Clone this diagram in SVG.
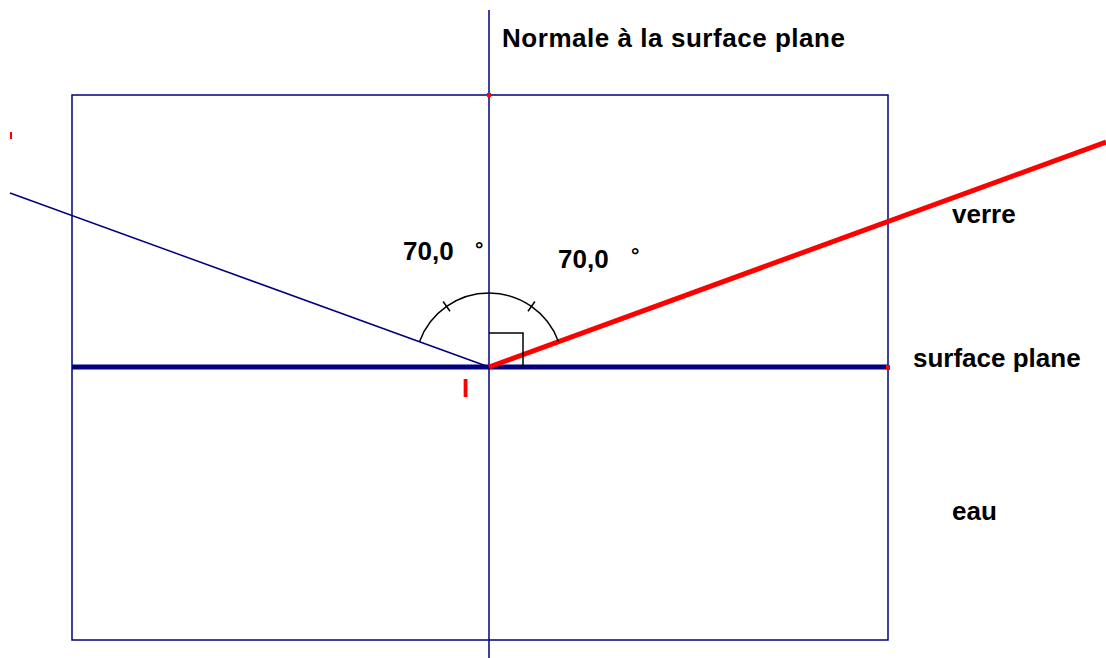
<svg xmlns="http://www.w3.org/2000/svg" width="1106" height="658" viewBox="0 0 1106 658">
<style>
.thin{stroke:#000080;stroke-width:1.5;fill:none}
.blk{stroke:#000000;stroke-width:1.5;fill:none}
.lbl{font-family:"Liberation Sans",Arial,sans-serif;font-weight:bold;font-size:26px;fill:#000000}
.deg{font-size:21px}
.dot{fill:#ff0000}
</style>
<rect width="1106" height="658" fill="#ffffff"/>
<g id="connectors">
<rect id="milieux" class="thin" x="72" y="95" width="816" height="545"/>
<line id="normale" class="thin" x1="489" y1="10" x2="489" y2="658"/>
<line id="surface" x1="72" y1="367" x2="888" y2="367" stroke="#000080" stroke-width="5"/>
<line id="rayon-incident" class="thin" x1="10" y1="193" x2="489" y2="367"/>
<line id="rayon-reflechi" x1="489" y1="367" x2="1106" y2="142" stroke="#ff0000" stroke-width="5"/>
<path id="arc" class="blk" d="M 419.5 341.7 A 74 74 0 0 1 558.5 341.7"/>
<line class="blk" x1="450" y1="311.3" x2="443.1" y2="301.5"/>
<line class="blk" x1="528" y1="311.3" x2="534.9" y2="301.5"/>
<path id="angle-droit" class="blk" d="M 489 333 H 523 V 367"/>
</g>
<g id="points">
<rect class="dot" x="487" y="93" width="4" height="4"/>
<rect class="dot" x="886" y="365" width="4" height="5"/>
<rect class="dot" x="10" y="132" width="2" height="7"/>
</g>
<g id="label-normale"><text class="lbl" x="502" y="47" textLength="343">Normale à la surface plane</text></g>
<g id="label-verre"><text class="lbl" x="952" y="223">verre</text></g>
<g id="label-surface"><text class="lbl" x="913" y="367">surface plane</text></g>
<g id="label-eau"><text class="lbl" x="952" y="520">eau</text></g>
<g id="angle-incident"><text class="lbl" x="403" y="260">70,0<tspan class="deg" x="475" y="256">°</tspan></text></g>
<g id="angle-reflexion"><text class="lbl" x="558" y="268">70,0<tspan class="deg" x="631" y="262">°</tspan></text></g>
<g id="point-I"><text x="462" y="397" font-family="Liberation Sans,Arial,sans-serif" font-weight="bold" font-size="26" fill="#ff0000">I</text></g>
</svg>
